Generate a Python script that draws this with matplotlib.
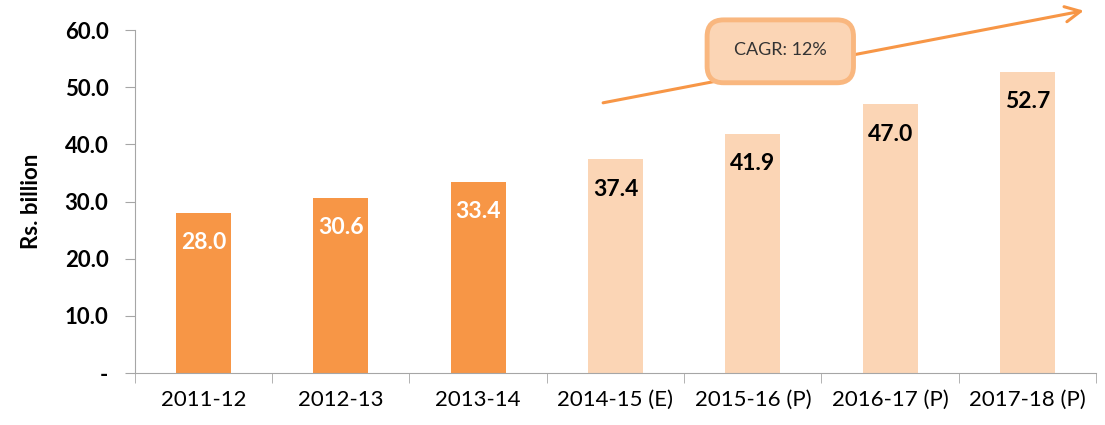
import matplotlib
matplotlib.use('Agg')
import matplotlib.pyplot as plt
from matplotlib.patches import FancyBboxPatch

# Données
years = ['2011-12', '2012-13', '2013-14', '2014-15 (E)', '2015-16 (P)', '2016-17 (P)', '2017-18 (P)']
values = [28.0, 30.6, 33.4, 37.4, 41.9, 47.0, 52.7]
is_actual = [True, True, True, False, False, False, False]
yticks = [0, 10, 20, 30, 40, 50, 60]
cagr_label = 'CAGR: 12%'

dark = '#F79646'
light = '#FBD5B5'

plt.rcParams['font.family'] = ['Lato', 'DejaVu Sans']

fig = plt.figure(figsize=(11.05, 4.25), dpi=100)
ax = fig.add_axes([0.122, 0.122, 0.870, 0.807])

x = list(range(len(years)))
colors = [dark if a else light for a in is_actual]
bars = ax.bar(x, values, width=0.4, color=colors)

# étiquettes à l'intérieur
for b, v, a in zip(bars, values, is_actual):
    ax.text(b.get_x() + b.get_width() / 2, v - 5.2, f'{v:.1f}', ha='center', va='center',
            fontsize=16.5, fontweight='bold', color='white' if a else 'black')

ax.set_xlim(-0.5, len(years) - 0.5)
ax.set_ylim(0, 60)
ax.set_yticks(yticks)
ax.set_yticklabels(['-'] + [f'{t:.1f}' for t in yticks[1:]], fontsize=16, fontweight='bold')
ax.set_xticks(x)
ax.set_xticklabels(years, fontsize=16)
ax.set_xticks([i - 0.5 for i in range(len(years) + 1)], minor=True)
ax.tick_params(axis='x', which='major', length=0, pad=12)
ax.tick_params(axis='x', which='minor', length=7, color='#A6A6A6')
ax.tick_params(axis='y', length=7, color='#A6A6A6', pad=12)

for s in ['top', 'right']:
    ax.spines[s].set_visible(False)
for s in ['left', 'bottom']:
    ax.spines[s].set_color('#A6A6A6')

ax.set_ylabel('Rs. billion', fontsize=16, fontweight='bold', labelpad=16)

# flèche CAGR
ax.annotate('', xy=(6.43, 63.5), xytext=(2.89, 47.2), annotation_clip=False,
            arrowprops=dict(arrowstyle='->,head_length=1.1,head_width=0.55', color=dark, lw=2.2))
bw, bh = 1.066, 11.0
aspect = 137.9 / 5.72
box = FancyBboxPatch((4.2 - bw / 2, 56.3 - bh / 2), bw, bh,
                     boxstyle='round,pad=0,rounding_size=0.12', mutation_aspect=aspect,
                     fc=light, ec='#F9B77F', lw=3.5, clip_on=False, zorder=3)
ax.add_patch(box)
ax.text(4.2, 56.6, cagr_label, ha='center', va='center', fontsize=13, color='#333333',
        clip_on=False, zorder=4)

fig.savefig('out.png', dpi=100)
